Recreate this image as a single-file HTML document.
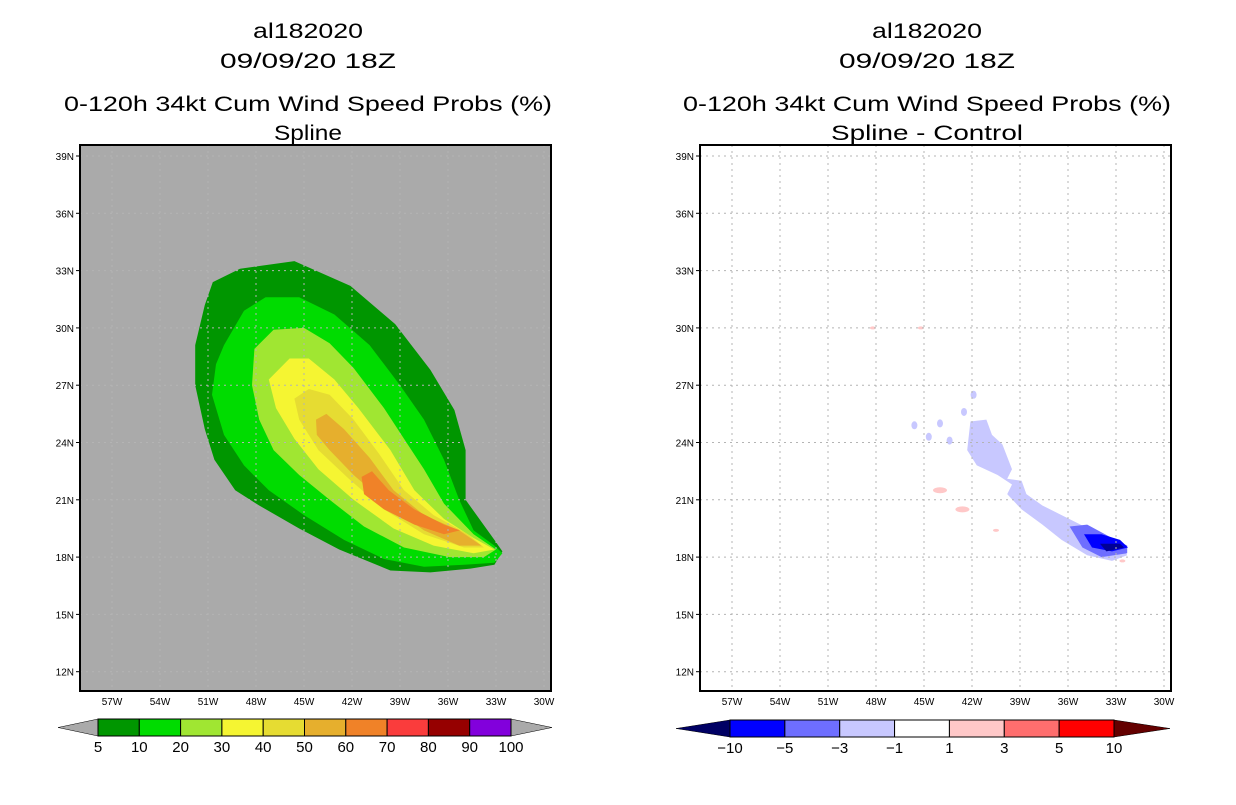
<!DOCTYPE html>
<html><head><meta charset="utf-8"><style>
body{margin:0;background:#fff;}
svg text{font-family:"Liberation Sans",sans-serif;fill:#000;}
</style></head><body>
<svg id="c" width="1236" height="800" xmlns="http://www.w3.org/2000/svg"></svg>
<script>
const latTicks=[39,36,33,30,27,24,21,18,15,12];
const lonTicks=[-57,-54,-51,-48,-45,-42,-39,-36,-33,-30];
const leftLevels=[5,10,20,30,40,50,60,70,80,90,100];
const leftColors=["#009600","#00dc00","#a0e632","#f5f532","#e6dc32","#e6af2d","#f08228","#fa3c3c","#960000","#8200dc"];
const rightLevels=[-10,-5,-3,-1,1,3,5,10];
const rightColors=["#000096","#0000ff","#6e6eff","#c8c8ff","#ffffff","#ffc8c8","#ff6e6e","#ff0000"];
const c5Lon=[-50.7,-49.0,-45.6,-42.1,-39.3,-37.1,-35.6,-34.9,-34.9,-33.1,-32.6,-33.1,-34.6,-37.1,-39.6,-42.8,-45.3,-47.8,-49.3,-50.6,-51.2,-51.8,-51.8,-51.2];
const c5Lat=[32.4,33.1,33.5,32.2,30.2,27.8,25.7,23.6,21.0,18.9,18.3,17.6,17.4,17.2,17.3,18.4,19.5,20.7,21.5,23.1,24.7,27.0,29.1,31.2];
const c10Lon=[-50.0,-48.75,-47.4,-45.3,-43.1,-40.9,-39.0,-37.5,-36.25,-35.3,-34.4,-33.1,-32.6,-33.1,-35.0,-37.5,-40.0,-42.5,-45.0,-47.2,-48.75,-50.0,-50.75,-50.5];
const c10Lat=[29.1,30.9,31.6,31.6,30.7,29.1,27.0,25.2,23.1,21.0,19.4,18.6,18.2,17.7,17.6,17.5,17.9,18.9,20.2,21.5,22.8,24.4,26.5,28.1];
const c20Lon=[-48.1,-46.9,-45.0,-43.4,-41.9,-40.0,-38.75,-37.5,-36.25,-34.4,-33.0,-33.75,-35.9,-38.75,-41.25,-43.4,-45.3,-46.9,-47.8,-48.25];
const c20Lat=[28.9,29.9,30.0,29.2,27.9,25.8,24.2,22.6,20.8,19.2,18.4,18.0,18.0,18.5,19.6,21.0,22.3,23.6,25.2,27.0];
const c30Lon=[-47.2,-45.9,-44.7,-43.1,-41.6,-39.6,-38.1,-36.25,-34.4,-33.1,-34.4,-36.9,-39.4,-41.9,-44.1,-45.6,-46.75];
const c30Lat=[27.3,28.4,28.4,27.3,25.8,23.6,21.5,20.0,19.0,18.4,18.2,18.6,19.5,21.0,22.6,24.2,25.8];
const c40Lon=[-45.6,-44.7,-43.4,-41.9,-40.3,-38.75,-36.9,-34.75,-33.75,-35.0,-37.5,-40.0,-42.2,-44.1,-45.3];
const c40Lat=[26.3,26.8,26.5,25.2,23.4,21.5,20.2,19.2,18.5,18.5,19.2,20.5,22.1,23.6,25.2];
const c50Lon=[-44.25,-43.6,-42.5,-40.9,-39.4,-37.5,-35.3,-33.9,-35.3,-37.5,-39.7,-41.9,-43.4,-44.2];
const c50Lat=[25.2,25.5,24.7,23.2,21.5,20.2,19.4,18.6,18.6,19.4,20.7,22.3,23.6,24.4];
const c60Lon=[-41.4,-40.75,-39.7,-38.1,-36.25,-35.25,-36.25,-38.1,-40.0,-41.25];
const c60Lat=[22.2,22.5,21.5,20.5,19.7,19.4,19.2,19.7,20.5,21.3];
const dLbLon=[-42.1,-41.1,-40.75,-40.1,-39.5,-39.8,-38.9,-38.6,-37.6,-36.4,-34.5,-32.6,-32.3,-33.25,-34.8,-36.4,-37.6,-38.9,-39.8,-39.5,-40.4,-41.7,-42.3];
const dLbLat=[25.1,25.2,24.4,23.9,22.6,22.1,22.0,21.3,20.7,20.2,19.4,18.6,18.1,17.8,18.1,18.9,19.7,20.5,21.3,21.8,22.3,22.8,23.6];
const dMbLon=[-35.9,-34.8,-33.25,-32.3,-32.3,-33.9,-35.1];
const dMbLat=[19.6,19.7,19.0,18.6,18.2,18.0,18.5];
const dBLon=[-35.0,-33.9,-32.75,-32.25,-33.25,-34.5];
const dBLat=[19.2,19.2,18.9,18.5,18.3,18.5];
const dNLon=[-34.0,-32.75,-32.5,-33.6];
const dNLat=[18.7,18.7,18.5,18.3];
const blobLon=[-45.6,-44.0,-43.4,-42.5,-41.9,-44.7];
const blobLat=[24.9,25.0,24.1,25.6,26.5,24.3];
const blobVal=[-2,-2,-2,-2,-2,-2];
const pinkLon=[-44.0,-42.6,-48.2,-45.2,-32.6,-40.5];
const pinkLat=[21.5,20.5,30.0,30.0,17.8,19.4];
const pinkVal=[2,2,2,2,2,2];

const S=document.getElementById('c');const NS='http://www.w3.org/2000/svg';
function mk(t,a,p){const e=document.createElementNS(NS,t);for(const k in a)e.setAttribute(k,a[k]);(p||S).appendChild(e);return e;}
function txt(s,x,y,size,anchor,len,p){const e=mk('text',{x:x,y:y,'font-size':size,'text-anchor':anchor||'middle'},p);if(len){e.setAttribute('textLength',len);e.setAttribute('lengthAdjust','spacingAndGlyphs');}e.textContent=s;return e;}
function panel(x0,name){
  const X=lon=>x0+32+(lon+57)*16, Y=lat=>156+(39-lat)*19.1;
  const g=mk('g',{});
  return {g,X,Y,x0};
}
function poly(P,lons,lats,fill,nm){const pts=lons.map((l,i)=>P.X(l).toFixed(1)+','+P.Y(lats[i]).toFixed(1)).join(' ');const e=mk('polygon',{points:pts,fill:fill},P.g);return e;}
function axes(P){
  const x0=P.x0, w=471;
  latTicks.forEach(l=>{const y=P.Y(l);mk('line',{x1:x0,x2:x0+w,y1:y,y2:y,stroke:'#b4b4b4','stroke-dasharray':'2,4','stroke-width':1},P.g);
    mk('line',{x1:x0-4,x2:x0,y1:y,y2:y,stroke:'#000'},P.g);
    const t=txt(l+'N',x0-6,y+4,10,'end',null,P.g);});
  lonTicks.forEach(l=>{const x=P.X(l);mk('line',{x1:x,x2:x,y1:145,y2:691,stroke:'#b4b4b4','stroke-dasharray':'2,4','stroke-width':1},P.g);
    const t=txt((-l)+'W',x,705,10,'middle',null,P.g);});
  const f=mk('rect',{x:x0,y:145,width:w,height:546,fill:'none',stroke:'#000','stroke-width':2},P.g);
  
}
const L=panel(80,'left-map');
mk('rect',{x:80,y:145,width:471,height:546,fill:'#aaaaaa'},L.g);
[[c5Lon,c5Lat],[c10Lon,c10Lat],[c20Lon,c20Lat],[c30Lon,c30Lat],[c40Lon,c40Lat],[c50Lon,c50Lat],[c60Lon,c60Lat]].forEach((c,i)=>poly(L,c[0],c[1],leftColors[i],'contour-'+leftLevels[i]));
axes(L);
const R=panel(700,'right-map');
mk('rect',{x:700,y:145,width:469,height:546,fill:'#fff'},R.g);
poly(R,dLbLon,dLbLat,rightColors[3],'diff-light-blue');
poly(R,dMbLon,dMbLat,rightColors[2],'diff-mid-blue');
poly(R,dBLon,dBLat,rightColors[1],'diff-blue');
poly(R,dNLon,dNLat,rightColors[0],'diff-navy');
blobLon.forEach((l,i)=>{const e=mk('ellipse',{cx:R.X(l),cy:R.Y(blobLat[i]),rx:3,ry:4,fill:blobVal[i]<-1?rightColors[3]:'#fff'},R.g);});
pinkLon.forEach((l,i)=>{const e=mk('ellipse',{cx:R.X(l),cy:R.Y(pinkLat[i]),rx:i<2?7:3,ry:i<2?3:1.5,fill:pinkVal[i]>1?rightColors[5]:'#fff'},R.g);});
axes(R);
function titles(cx,sub,subLen){
  const a=[['al182020',38,110],['09/09/20 18Z',68,176],['0-120h 34kt Cum Wind Speed Probs (%)',111,488],[sub,140,subLen]];
  a.forEach((t,i)=>{const e=txt(t[0],cx,t[1],21,'middle',t[2]);});
}
titles(308,'Spline',68);
titles(927,'Spline - Control',192);
function cbar(x0,x1,tl,tr,y0,y1,levels,colors,endL,endR,nm){
  const g=mk('g',{});
  const n=colors.length, w=(x1-x0)/n, ym=(y0+y1)/2;
  mk('polygon',{points:`${tl},${ym} ${x0},${y0} ${x0},${y1}`,fill:endL,stroke:'#000','stroke-width':0.5},g);
  mk('polygon',{points:`${tr},${ym} ${x1},${y0} ${x1},${y1}`,fill:endR,stroke:'#000','stroke-width':0.5},g);
  colors.forEach((col,i)=>{const r=mk('rect',{x:x0+i*w,y:y0,width:w,height:y1-y0,fill:col,stroke:'#000','stroke-width':1},g);});
  levels.forEach((v,i)=>{const t=txt(String(v).replace('-','\u2212'),x0+i*w,y1+16,15,'middle',null,g);});
}
cbar(98,511,58,552,719,736,leftLevels,leftColors,'#aaaaaa','#aaaaaa','left-colorbar');
cbar(730,1114,676,1170,720,737,rightLevels,rightColors.slice(1),'#000064','#640000','right-colorbar');
</script>
</body></html>
